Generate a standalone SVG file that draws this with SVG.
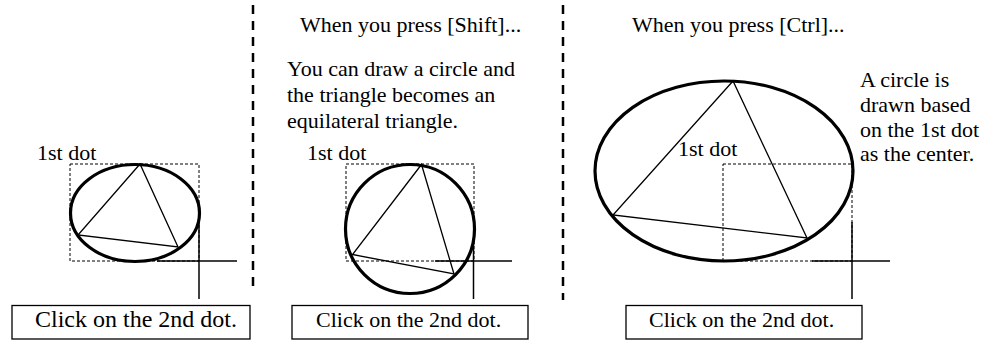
<svg xmlns="http://www.w3.org/2000/svg" width="991" height="340" viewBox="0 0 991 340" font-family="'Liberation Serif', 'Times New Roman', Times, 'DejaVu Serif', serif">
<style>
text{font-family:"Liberation Serif","Times New Roman",Times,"DejaVu Serif",serif;font-size:22px;fill:#000}
.sep{stroke:#000;stroke-width:2.5;stroke-dasharray:9 7;fill:none}
.sel{stroke:#000;stroke-width:1;stroke-dasharray:3 2;fill:none}
.shape{stroke:#000;stroke-width:3.2;fill:none}
.tri{stroke:#000;stroke-width:1.3;fill:none;stroke-linejoin:miter}
.cross{stroke:#000;stroke-width:1.5;fill:none}
.box{stroke:#000;stroke-width:1.3;fill:#fff}
</style>
<rect width="991" height="340" fill="#fff"/>
<g id="separators">
<line class="sep" x1="253" y1="5" x2="253" y2="286"/>
<line class="sep" x1="563" y1="5" x2="563" y2="300"/>
</g>
<g id="panel1">
<text x="37" y="160">1st dot</text>
<rect class="sel" x="70" y="164" width="129" height="97"/>
<ellipse class="shape" cx="135" cy="213" rx="64.5" ry="48.5"/>
<polygon class="tri" points="140,164 78,235 178,247"/>
<line class="cross" x1="157" y1="261" x2="237" y2="261"/>
<line class="cross" x1="199" y1="223" x2="199" y2="299"/>
<rect class="box" x="12" y="305.5" width="238" height="33.5"/>
<text x="35" y="327" style="font-size:24px">Click on the 2nd dot.</text>
</g>
<g id="panel2">
<text x="300" y="32">When you press [Shift]...</text>
<text x="287" y="76">You can draw a circle and</text>
<text x="287" y="102">the triangle becomes an</text>
<text x="287" y="128">equilateral triangle.</text>
<text x="307" y="160">1st dot</text>
<rect class="sel" x="346" y="164" width="128" height="97"/>
<circle class="shape" cx="410" cy="229" r="64.5"/>
<polygon class="tri" points="421.5,164.5 352.5,254.5 454,274"/>
<line class="cross" x1="435" y1="261" x2="512" y2="261"/>
<line class="cross" x1="473.5" y1="242" x2="473.5" y2="299"/>
<rect class="box" x="292" y="305.5" width="236" height="33.5"/>
<text x="316" y="327">Click on the 2nd dot.</text>
</g>
<g id="panel3">
<text x="632" y="32">When you press [Ctrl]...</text>
<text x="860" y="87">A circle is</text>
<text x="860" y="112">drawn based</text>
<text x="860" y="137">on the 1st dot</text>
<text x="860" y="161">as the center.</text>
<ellipse class="shape" cx="724" cy="171" rx="129" ry="90"/>
<rect class="sel" x="723" y="164" width="129" height="97"/>
<polygon class="tri" points="733,81 613,215 807,238"/>
<text x="678" y="156">1st dot</text>
<line class="cross" x1="812" y1="261" x2="890" y2="261"/>
<line class="cross" x1="852" y1="222" x2="852" y2="299"/>
<rect class="box" x="626" y="305.5" width="236" height="33.5"/>
<text x="649" y="327">Click on the 2nd dot.</text>
</g>
</svg>
